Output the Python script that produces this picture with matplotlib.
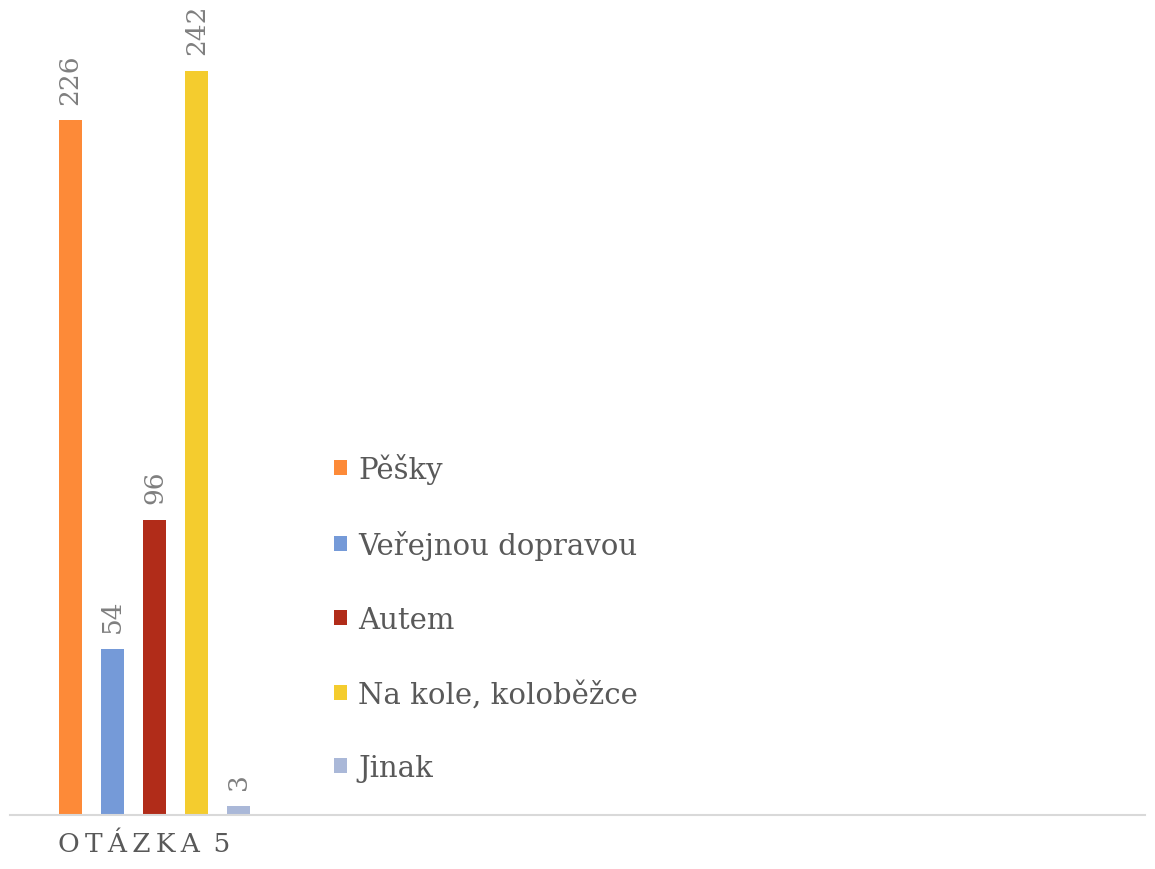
"""Bar chart: Otázka 5 – způsob dopravy."""

import matplotlib

matplotlib.use("Agg")
import matplotlib.pyplot as plt
from matplotlib.patches import Patch

CATEGORIES = ["Pěšky", "Veřejnou dopravou", "Autem", "Na kole, koloběžce", "Jinak"]
VALUES = [226, 54, 96, 242, 3]
COLORS = ["#FD8A38", "#759AD8", "#B12C19", "#F4CC2E", "#AAB8D8"]
GROUP_LABEL = "O\u2009T\u2009Á\u2009Z\u2009K\u2009A\u2009 5"

plt.rcParams["font.family"] = ["DejaVu Serif"]

W, H = 1155, 870
fig = plt.figure(figsize=(W / 100, H / 100), dpi=100)

# axes placed in pixel units
left, right = 10, 1145
bottom = H - 816
top = 47.5
ax = fig.add_axes([left / W, bottom / H, (right - left) / W, (H - top - bottom) / H])

step = 42.25
x0 = (70 - left) / step
positions = list(range(len(VALUES)))
ax.bar(positions, VALUES, width=23 / step, color=COLORS)
ax.set_xlim(-x0, -x0 + (right - left) / step)
ax.set_ylim(0, 250)

for x, v in zip(positions, VALUES):
    ax.annotate(
        str(v), (x, v), xytext=(0, 12), textcoords="offset points",
        rotation=90, ha="center", va="bottom", fontsize=19, color="#7F7F7F",
        annotation_clip=False,
    )

for side in ["top", "right", "left"]:
    ax.spines[side].set_visible(False)
ax.spines["bottom"].set_color("#D9D9D9")
ax.spines["bottom"].set_linewidth(1.5)
ax.set_xticks([])
ax.set_yticks([])

fig.text(58 / W, 1 - 845 / H, GROUP_LABEL, fontsize=19, color="#595959",
         ha="left", va="center")

handles = [Patch(facecolor=c, edgecolor="none") for c in COLORS]
fig.legend(
    handles, CATEGORIES, loc="upper left", bbox_to_anchor=(308 / W, 1 - 428 / H),
    frameon=False, fontsize=21, labelcolor="#595959", handlelength=0.42,
    handleheight=0.42, handletextpad=0.4, labelspacing=1.57,
)

fig.savefig("out.png", dpi=100)
